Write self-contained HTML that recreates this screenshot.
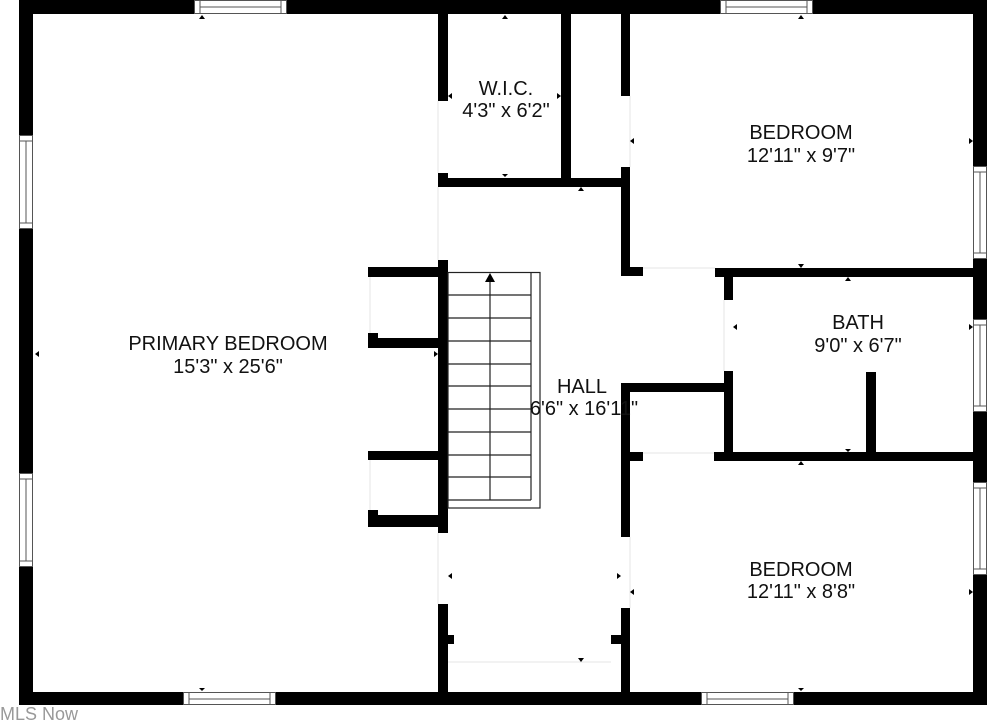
<!DOCTYPE html>
<html><head><meta charset="utf-8"><style>
html,body{margin:0;padding:0;background:#fff;}
svg{display:block;}
text{font-family:"Liberation Sans",Arial,sans-serif;fill:#111;}
</style></head><body>
<svg width="987" height="722" viewBox="0 0 987 722" xmlns="http://www.w3.org/2000/svg">
<rect width="987" height="722" fill="#fff"/>
<g fill="#000">
<rect x="19" y="0" width="968" height="14"/>
<rect x="19" y="0" width="14" height="705"/>
<rect x="973" y="0" width="14" height="705"/>
<rect x="19" y="692" width="968" height="13"/>
<rect x="438" y="14" width="10" height="87"/>
<rect x="438" y="173" width="10" height="14"/>
<rect x="438" y="178" width="192" height="9"/>
<rect x="561" y="14" width="10" height="173"/>
<rect x="621" y="14" width="9" height="82"/>
<rect x="621" y="167" width="9" height="109"/>
<rect x="621" y="267" width="22" height="9"/>
<rect x="715" y="268" width="258" height="9"/>
<rect x="724" y="268" width="9" height="32"/>
<rect x="724" y="371" width="9" height="90"/>
<rect x="621" y="383" width="112" height="9"/>
<rect x="621" y="383" width="9" height="154"/>
<rect x="621" y="452" width="22" height="9"/>
<rect x="714" y="452" width="259" height="9"/>
<rect x="866" y="372" width="10" height="85"/>
<rect x="621" y="608" width="9" height="90"/>
<rect x="611" y="635" width="12" height="9"/>
<rect x="438" y="260" width="10" height="273"/>
<rect x="438" y="604" width="10" height="92"/>
<rect x="446" y="635" width="8" height="9"/>
<rect x="368" y="267" width="72" height="10"/>
<rect x="368" y="267" width="10" height="6"/>
<rect x="368" y="338" width="72" height="10"/>
<rect x="368" y="333" width="10" height="10"/>
<rect x="368" y="451" width="72" height="9"/>
<rect x="368" y="451" width="10" height="6"/>
<rect x="368" y="515" width="72" height="12"/>
<rect x="368" y="510" width="10" height="10"/>
</g>
<g stroke="#e4e4e4" stroke-width="1" fill="none">
<line x1="448" y1="662" x2="611" y2="662"/>
<line x1="643" y1="268" x2="715" y2="268"/>
<line x1="643" y1="453" x2="714" y2="453"/>
<line x1="438" y1="101" x2="438" y2="173"/>
<line x1="438" y1="187" x2="438" y2="260"/>
<line x1="438" y1="533" x2="438" y2="604"/>
<line x1="630" y1="96" x2="630" y2="167"/>
<line x1="630" y1="537" x2="630" y2="608"/>
<line x1="724" y1="300" x2="724" y2="371"/>
<line x1="370" y1="277" x2="370" y2="333"/>
<line x1="370" y1="460" x2="370" y2="510"/>
</g>
<g fill="#fff" stroke="#555" stroke-width="1">
<rect x="194.5" y="0.5" width="92" height="13"/><line x1="200" y1="0" x2="200" y2="14"/><line x1="281" y1="0" x2="281" y2="14"/><line x1="200" y1="7" x2="281" y2="7"/>
<rect x="720.5" y="0.5" width="92" height="13"/><line x1="726" y1="0" x2="726" y2="14"/><line x1="807" y1="0" x2="807" y2="14"/><line x1="726" y1="7" x2="807" y2="7"/>
<rect x="183.5" y="692.5" width="92" height="12"/><line x1="189" y1="692" x2="189" y2="705"/><line x1="270" y1="692" x2="270" y2="705"/><line x1="189" y1="699" x2="270" y2="699"/>
<rect x="701.5" y="692.5" width="92" height="12"/><line x1="707" y1="692" x2="707" y2="705"/><line x1="788" y1="692" x2="788" y2="705"/><line x1="707" y1="699" x2="788" y2="699"/>
<rect x="19.5" y="135.5" width="13" height="93"/><line x1="19" y1="141" x2="33" y2="141"/><line x1="19" y1="223" x2="33" y2="223"/><line x1="26" y1="141" x2="26" y2="223"/>
<rect x="19.5" y="473.5" width="13" height="93"/><line x1="19" y1="479" x2="33" y2="479"/><line x1="19" y1="561" x2="33" y2="561"/><line x1="26" y1="479" x2="26" y2="561"/>
<rect x="973.5" y="166.5" width="13" height="92"/><line x1="973" y1="172" x2="987" y2="172"/><line x1="973" y1="253" x2="987" y2="253"/><line x1="980" y1="172" x2="980" y2="253"/>
<rect x="973.5" y="319.5" width="13" height="92"/><line x1="973" y1="325" x2="987" y2="325"/><line x1="973" y1="406" x2="987" y2="406"/><line x1="980" y1="325" x2="980" y2="406"/>
<rect x="973.5" y="482.5" width="13" height="92"/><line x1="973" y1="488" x2="987" y2="488"/><line x1="973" y1="569" x2="987" y2="569"/><line x1="980" y1="488" x2="980" y2="569"/>
</g>
<g stroke="#222" stroke-width="1.2" fill="none">
<rect x="448" y="272.5" width="92" height="235.5"/>
<line x1="531" y1="272" x2="531" y2="500"/>
<line x1="448" y1="500" x2="531" y2="500"/>
<line x1="490" y1="282" x2="490" y2="500"/>
<line x1="448" y1="295" x2="531" y2="295"/>
<line x1="448" y1="318" x2="531" y2="318"/>
<line x1="448" y1="341" x2="531" y2="341"/>
<line x1="448" y1="364" x2="531" y2="364"/>
<line x1="448" y1="386" x2="531" y2="386"/>
<line x1="448" y1="409" x2="531" y2="409"/>
<line x1="448" y1="432" x2="531" y2="432"/>
<line x1="448" y1="455" x2="531" y2="455"/>
<line x1="448" y1="477" x2="531" y2="477"/>
</g>
<polygon points="490,273 485,282 495,282" fill="#000"/>
<g fill="#000">
<polygon points="202,15 199,19 205,19"/><polygon points="505,15 502,19 508,19"/><polygon points="801,15 798,19 804,19"/>
<polygon points="505,177 502,174 508,174"/><polygon points="581,187 578,191 584,191"/>
<polygon points="448,96 452,93 452,99"/><polygon points="561,96 557,93 557,99"/><polygon points="630,141 634,138 634,144"/>
<polygon points="801,268 798,264 804,264"/><polygon points="848,277 845,281 851,281"/>
<polygon points="733,327 737,324 737,330"/><polygon points="973,141 969,138 969,144"/><polygon points="973,327 969,324 969,330"/>
<polygon points="848,452 845,449 851,449"/><polygon points="801,461 798,465 804,465"/>
<polygon points="35,354 39,351 39,357"/><polygon points="438,354 434,351 434,357"/>
<polygon points="448,576 452,573 452,579"/><polygon points="621,576 617,573 617,579"/><polygon points="630,592 634,589 634,595"/>
<polygon points="581,662 578,658 584,658"/><polygon points="973,592 969,589 969,595"/>
<polygon points="202,691 199,688 205,688"/><polygon points="801,691 798,688 804,688"/>
</g>
<g font-size="20" text-anchor="middle">
<text x="228" y="350">PRIMARY BEDROOM</text>
<text x="228" y="373">15'3" x 25'6"</text>
<text x="506" y="95">W.I.C.</text>
<text x="506" y="117">4'3" x 6'2"</text>
<text x="801" y="139">BEDROOM</text>
<text x="801" y="162">12'11" x 9'7"</text>
<text x="858" y="329">BATH</text>
<text x="858" y="352">9'0" x 6'7"</text>
<text x="582" y="393">HALL</text>
<text x="584" y="415">6'6" x 16'11"</text>
<text x="801" y="576">BEDROOM</text>
<text x="801" y="598">12'11" x 8'8"</text>
</g>
<text x="0" y="720" font-size="18" style="fill:#999">MLS Now</text>
</svg>
</body></html>
